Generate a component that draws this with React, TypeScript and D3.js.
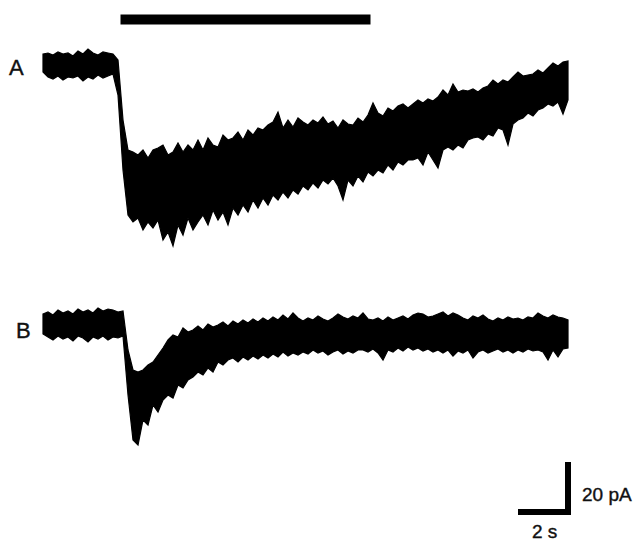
import React, { useEffect, useRef } from 'react';
import * as d3 from 'd3';

// sampling step of the envelopes below (s)
const STEP = 0.2;

// trace A: upper / lower envelope of the noisy current (pA, relative to baseline)
const traceAHigh = [
  4.4, 4.8, 4.0, 5.2, 4.4, 4.8, 3.6, 5.6, 4.4, 6.4, 4.8, 4.0, 5.2, 4.8, 4.4,
  2.0, -22, -34, -34.8, -36, -34, -37.2, -34, -33.2, -32, -36, -34.8, -31.2, -34.8, -32,
  -34, -30, -34, -29.2, -32, -32.8, -28, -30, -29.2, -26.8, -30, -26, -28, -25.2, -26,
  -24, -22.8, -18.8, -25.2, -22, -24.8, -21.2, -22.8, -24, -22, -23.2, -20.8, -23.6, -22.4, -25.2,
  -22, -23.6, -24, -21.2, -22.8, -20, -15.2, -19.2, -20.4, -17.2, -18.4, -16.4, -15.6, -17.2, -15.6,
  -14, -15.2, -13.6, -14.4, -12.8, -10, -12, -7.6, -10.8, -10, -10.4, -9.6, -10.8, -9.2, -8.4,
  -6, -7.6, -6, -6.8, -4.8, -2.8, -4.4, -4, -3.6, -2, -3.2, -1.2, 0.8, -0.4, 1.2, 1.6
];
const traceALow = [
  -2.8, -4.8, -5.6, -4.4, -6.0, -4.8, -5.2, -4.4, -6.4, -4.8, -5.6, -4.0, -5.2, -4.4, -3.6,
  -12, -42, -60, -62.8, -61.2, -66, -62.8, -65.2, -62, -70, -66.8, -72.4, -64, -68, -61.2,
  -66, -62.8, -60, -64, -58, -62, -58.8, -64, -57.2, -60, -56, -58.8, -54, -57.2, -53.2,
  -56, -52, -54, -50.8, -53.2, -50, -51.6, -48.4, -50, -47.2, -49.2, -46, -47.6, -45.2, -48.4,
  -54, -46, -48.4, -44.4, -46.8, -42.8, -44.4, -42, -43.2, -40, -42, -38.8, -40, -38, -38,
  -37.2, -40, -34.8, -38, -41.2, -34, -32.8, -34, -32, -33.2, -30, -29.2, -28.8, -30, -27.6,
  -28.4, -25.2, -26, -32, -23.6, -22, -21.2, -19.2, -20.4, -18, -17.2, -15.6, -16.4, -14.8, -19.6, -14
];

// trace B: upper / lower envelope (pA, relative to baseline)
const traceBHigh = [
  4.4, 5.2, 4.0, 6.0, 4.8, 5.6, 4.4, 6.4, 5.2, 6.0, 4.8, 6.8, 5.6, 6.4, 6.0,
  5.2, 5.6, -10, -18, -18.8, -18, -16, -14.8, -12, -9.2, -6, -4, -4.8, -1.2, -2.8,
  -2, -0.4, -2, 0.4, -0.8, 0, 1.2, -0.4, 1.6, 0.4, 2, 0.8, 2.4, 1.2, 2.8,
  1.6, 3.2, 2, 4, 2.4, 4.8, 2.8, 1.6, 2.8, 2, 3.6, 2.4, 1.6, 2.8, 4.4,
  3.2, 2.4, 3.6, 2.8, 4.8, 2.4, 2, 2.8, 1.6, 3.2, 2, 2.8, 3.6, 2.4, 4,
  4.8, 4.4, 3.2, 3.6, 4.4, 5.2, 3.6, 4.8, 4, 2.8, 2, 3.6, 2.8, 4, 2.4,
  1.6, 2.8, 2, 3.2, 2.4, 2.8, 2, 3.2, 2.8, 4.8, 3.6, 2.8, 4, 3.2, 2.8, 2
];
const traceBLow = [
  -3.6, -4.8, -6.0, -4.4, -5.6, -4.8, -6.4, -4.4, -5.2, -6.8, -4.8, -5.6, -4.4, -6.0, -4.8,
  -5.2, -4.4, -28, -46, -48, -38, -40, -32, -34.8, -30, -28, -29.2, -24, -25.2, -22,
  -20.8, -18.8, -20, -17.2, -18.8, -14.8, -16, -14, -13.2, -14.8, -12.8, -14, -12.4, -13.6, -12,
  -13.2, -11.6, -12.8, -10.8, -12.4, -11.2, -12, -10.8, -11.6, -10, -11.2, -10.4, -12, -10.8, -10,
  -11.6, -10.4, -11.2, -10, -10, -10.8, -9.6, -11.2, -14, -10, -10.8, -9.2, -10.4, -8.8, -10,
  -9.2, -10.4, -9.6, -10.8, -10, -11.2, -10, -12.4, -10.4, -11.2, -10, -13.2, -10.8, -10, -11.2,
  -10.4, -9.6, -10.8, -10, -11.2, -10, -10.8, -9.6, -10.4, -10, -10.8, -14, -10, -12.8, -9.6, -9.2
];

// agonist application (s)
const application = [3.1, 13.1];
const scaleBarTime = 2;
const scaleBarCurrent = 20;

const App = () => {
  const svgRef = useRef<SVGSVGElement>(null);

  useEffect(() => {
    const width = 636;
    const height = 541;
    const svg = d3.select(svgRef.current);
    svg.selectAll('*').remove();
    svg.attr('width', width).attr('height', height);

    const x = d3.scaleLinear().domain([0, 21]).range([43, 568]);
    const yA = d3.scaleLinear().domain([0, -20]).range([65, 115]);
    const yB = d3.scaleLinear().domain([0, -20]).range([325, 375]);

    const drawTrace = (hi: number[], lo: number[], y: d3.ScaleLinear<number, number>) => {
      const rows = hi.map((h, i) => ({ t: i * STEP, hi: h, lo: lo[i] }));
      const area = d3.area<any>()
        .x(d => x(d.t))
        .y0(d => y(d.lo))
        .y1(d => y(d.hi));
      svg.append('path')
        .attr('d', area(rows))
        .attr('fill', '#000')
        .attr('stroke', '#000')
        .attr('stroke-width', 1.2)
        .attr('stroke-linejoin', 'miter');
    };

    drawTrace(traceAHigh, traceALow, yA);
    drawTrace(traceBHigh, traceBLow, yB);

    // application bar
    svg.append('line')
      .attr('x1', x(application[0])).attr('x2', x(application[1]))
      .attr('y1', 19.5).attr('y2', 19.5)
      .attr('stroke', '#000')
      .attr('stroke-width', 10);

    const font = "'Liberation Sans', Arial, Helvetica, sans-serif";
    const label = (tx: number, ty: number, s: string, size: number) =>
      svg.append('text').attr('x', tx).attr('y', ty).text(s)
        .style('font-family', font).style('font-size', `${size}px`)
        .attr('fill', '#111').attr('stroke', '#111').attr('stroke-width', 0.4);

    label(9, 75, 'A', 22);
    label(16, 338, 'B', 22);

    // scale bar
    const cornerX = 571;
    const cornerY = 512;
    const barLen = x(scaleBarTime) - x(0);
    const barHeight = yA(-scaleBarCurrent) - yA(0);
    svg.append('path')
      .attr('d', `M${cornerX - barLen},${cornerY}H${cornerX - 3}V${cornerY - barHeight + 3}`)
      .attr('fill', 'none')
      .attr('stroke', '#000')
      .attr('stroke-width', 6)
      .attr('stroke-linecap', 'square');

    label(582, 501, `${scaleBarCurrent} pA`, 19);
    label(532, 538, `${scaleBarTime} s`, 19);
  }, []);

  return (
    <div style={{ position: 'absolute', left: 0, top: 0 }}>
      <svg ref={svgRef} style={{ display: 'block' }}></svg>
    </div>
  );
};

export default App;
